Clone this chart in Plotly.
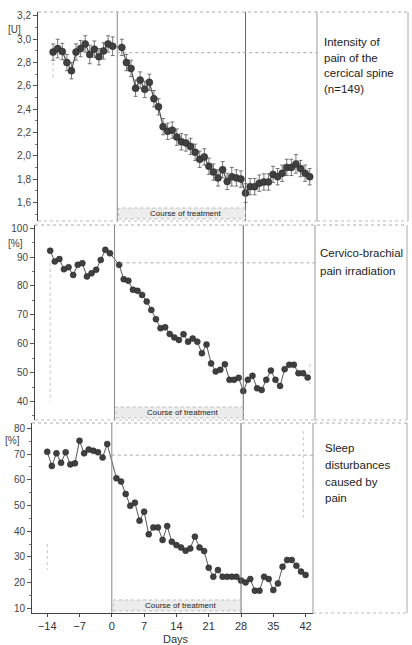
import plotly.graph_objects as go

W, H = 412, 645

# ---------------- data ----------------
DAYS = [-14, -13, -12, -11, -10, -9, -8, -7, -6, -5, -4, -3, -2, -1,
        1, 2, 3, 4, 5, 6, 7, 8, 9, 10, 11, 12, 13, 14, 15, 16, 17, 18, 19, 20,
        21, 22, 23, 24, 25, 26, 27, 28, 29, 30, 31, 32, 33, 34, 35, 36, 37, 38,
        39, 40, 41, 42]

PAIN_INTENSITY = [2.89, 2.92, 2.895, 2.80, 2.73, 2.89, 2.92, 2.96, 2.87, 2.915, 2.85, 2.90, 2.96, 2.94,
                  2.93, 2.80, 2.75, 2.58, 2.65, 2.57, 2.63, 2.49, 2.42, 2.25, 2.21, 2.22, 2.16, 2.12,
                  2.11, 2.08, 2.03, 1.97, 1.99, 1.91, 1.86, 1.81, 1.88, 1.78, 1.82, 1.81, 1.80, 1.68,
                  1.735, 1.735, 1.765, 1.775, 1.775, 1.84, 1.82, 1.85, 1.90, 1.90, 1.93, 1.89, 1.85, 1.82]

PAIN_SEM = [0.07, 0.08, 0.07, 0.07, 0.07, 0.07, 0.07, 0.07, 0.08, 0.07, 0.07, 0.07, 0.07, 0.08,
            0.07, 0.07, 0.07, 0.07, 0.07, 0.07, 0.07, 0.07, 0.07, 0.07, 0.07, 0.07, 0.07, 0.07,
            0.07, 0.07, 0.07, 0.07, 0.07, 0.07, 0.07, 0.07, 0.07, 0.07, 0.08, 0.07, 0.07, 0.08,
            0.07, 0.07, 0.07, 0.07, 0.07, 0.07, 0.07, 0.07, 0.07, 0.07, 0.08, 0.07, 0.07, 0.07]

IRRADIATION = [92.2, 88.5, 89.3, 85.8, 86.5, 83.8, 87.3, 87.9, 83.3, 84.4, 85.6, 89.0, 92.5, 91.3,
               87.3, 82.3, 81.8, 78.7, 78.3, 76.9, 74.6, 71.7, 68.5, 65.4, 65.7, 63.4, 62.2, 61.3,
               63.3, 60.7, 61.8, 60.7, 56.7, 59.7, 53.2, 50.4, 51.0, 52.9, 47.5, 47.5, 48.2, 43.6,
               47.5, 48.9, 44.6, 44.0, 47.5, 50.7, 47.5, 45.4, 51.2, 52.7, 52.7, 49.8, 49.8, 48.3]

SLEEP = [70.9, 65.4, 70.3, 66.6, 70.7, 66.0, 66.4, 75.2, 70.3, 71.8, 71.3, 70.7, 68.7, 73.9,
         60.6, 59.3, 54.5, 49.9, 51.1, 44.1, 47.6, 38.8, 41.5, 41.5, 36.6, 42.0, 35.9, 34.6,
         33.7, 32.4, 33.3, 37.9, 33.7, 32.3, 25.8, 22.3, 24.9, 22.3, 22.3, 22.3, 22.3, 20.8,
         20.1, 21.4, 16.9, 16.9, 22.3, 21.4, 17.1, 19.7, 26.2, 28.8, 28.8, 26.6, 24.3, 23.0]

X_TICKS = [-14, -7, 0, 7, 14, 21, 28, 35, 42]
TREATMENT = [0, 28]
BASELINE_REF = [2.885, 88.0, 69.6]
TITLES = [["Intensity of", "pain of the", "cercical spine", "(n=149)"],
          ["Cervico-brachial", "pain irradiation"],
          ["Sleep", "disturbances", "caused by", "pain"]]
UNITS = ["[U]", "[%]", "[%]"]

# ---------------- layout helpers ----------------
def fx(p):
    return p / W

def fy(p):
    return 1 - p / H

XR = [-17.3, 43.6]
FONT = "Liberation Sans, Arial, Helvetica, sans-serif"

PANELS = [
    dict(l=38, r=317, br=408, t=12, b=221, yr=[1.44, 3.234], dt=0.2, t0=1.6, mdt=0.1, fmt=".1f"),
    dict(l=35, r=315, br=407, t=225, b=420, yr=[33.6, 101.1], dt=10, t0=0, mdt=5, fmt="d"),
    dict(l=32, r=313, br=407, t=423, b=613, yr=[8.2, 82.1], dt=10, t0=0, mdt=5, fmt="d"),
]
# faint dotted guide lines seen in the scan: (panel, day, y from, y to)
GUIDES = [(0, -14, 2.80, 2.66), (1, -14, 88.0, 40.0), (1, 42.5, 53.0, 46.0),
          (2, -14, 35.0, 25.0), (2, 41.5, 79.0, 45.0)]

fig = go.Figure()
SERIES = [PAIN_INTENSITY, IRRADIATION, SLEEP]
for i, vals in enumerate(SERIES):
    n = "" if i == 0 else str(i + 1)
    tr = dict(
        x=DAYS, y=vals, mode="lines+markers",
        line=dict(color="#444", width=1.1 if i == 0 else 0.9),
        marker=dict(size=7 if i == 0 else 6, color="#404040", line=dict(color="#222", width=0.5)),
        xaxis="x" + n, yaxis="y" + n, showlegend=False,
    )
    if i == 0:
        tr["error_y"] = dict(type="data", array=PAIN_SEM, color="#555", thickness=0.8, width=2)
    fig.add_trace(go.Scatter(**tr))

shapes = []
annotations = []
layout = {}
for i, P in enumerate(PANELS):
    n = "" if i == 0 else str(i + 1)
    xa = "x" + n
    ya = "y" + n
    last = (i == 2)
    layout["xaxis" + n] = dict(
        domain=[fx(P["l"]), fx(P["r"])], anchor=ya, range=XR,
        showgrid=False, zeroline=False, automargin=False,
        showline=last, linecolor="#444", linewidth=1,
        showticklabels=last, ticks="outside" if last else "",
        tickvals=X_TICKS if last else None, ticklen=3, tickcolor="#444",
        tickfont=dict(family=FONT, size=11, color="#333"),
    )
    layout["yaxis" + n] = dict(
        domain=[fy(P["b"]), fy(P["t"])], anchor=xa, range=P["yr"],
        showgrid=False, zeroline=False, automargin=False,
        showline=True, linecolor="#444", linewidth=1,
        ticks="outside", ticklen=4, tickcolor="#555", tick0=P["t0"], dtick=P["dt"],
        tickformat=P["fmt"],
        minor=dict(ticks="outside", ticklen=2, dtick=P["mdt"], tickcolor="#777"),
        tickfont=dict(family=FONT, size=10, color="#444"),
    )
    for d, col in zip(TREATMENT, ["#888", "#666"]):
        shapes.append(dict(type="line", xref=xa, yref="paper", x0=d, x1=d,
                           y0=fy(P["b"]), y1=fy(P["t"]), line=dict(color=col, width=1)))
    shapes.append(dict(type="line", xref=xa, yref=ya, x0=TREATMENT[0], x1=XR[1],
                       y0=BASELINE_REF[i], y1=BASELINE_REF[i],
                       line=dict(color="#aaa", width=1, dash="dot")))
    shapes.append(dict(type="line", xref="paper", yref="paper", x0=fx(P["l"]), x1=fx(P["br"]),
                       y0=fy(P["t"]), y1=fy(P["t"]), line=dict(color="#aaa", width=1, dash="dot")))
    shapes.append(dict(type="line", xref="paper", yref="paper", x0=fx(P["r"]), x1=fx(P["r"]),
                       y0=fy(P["b"]), y1=fy(P["t"]), line=dict(color="#999", width=1)))
    shapes.append(dict(type="line", xref="paper", yref="paper", x0=fx(P["br"]), x1=fx(P["br"]),
                       y0=fy(P["b"]), y1=fy(P["t"]), line=dict(color="#aaa", width=1)))
    shapes.append(dict(type="line", xref="paper", yref="paper", x0=fx(P["r"]), x1=fx(P["br"]),
                       y0=fy(P["b"]), y1=fy(P["b"]), line=dict(color="#bbb", width=1, dash="dot")))
    if not last:
        shapes.append(dict(type="line", xref="paper", yref="paper", x0=fx(P["l"]), x1=fx(P["r"]),
                           y0=fy(P["b"]), y1=fy(P["b"]), line=dict(color="#bbb", width=1, dash="dot")))
    rb = P["b"] - 2
    rt = rb - 11
    shapes.append(dict(type="rect", xref=xa, yref="paper", x0=TREATMENT[0] + 0.3, x1=TREATMENT[1],
                       y0=fy(rb), y1=fy(rt), fillcolor="rgba(200,200,200,0.35)",
                       line=dict(color="#bbb", width=1, dash="dot")))
    annotations.append(dict(text="Course of treatment", xref=xa, yref="paper", x=14.8,
                            y=fy((rb + rt) / 2), showarrow=False, xanchor="center", yanchor="middle",
                            font=dict(family=FONT, size=8, color="#222")))
    annotations.append(dict(text=UNITS[i], xref="paper", yref="paper",
                            x=fx([14, 16, 12][i]), y=fy([30, 243, 440][i]), showarrow=False,
                            xanchor="center", yanchor="middle",
                            font=dict(family=FONT, size=10, color="#444")))

for (pi, d, ya0, ya1) in GUIDES:
    n = "" if pi == 0 else str(pi + 1)
    shapes.append(dict(type="line", xref="x" + n, yref="y" + n, x0=d, x1=d, y0=ya0, y1=ya1,
                       line=dict(color="#c4c4c4", width=1, dash="dot"), layer="below"))

TITLE_POS = [(322, [42, 57.5, 73, 89]), (318, [253, 271]), (323, [448, 465, 482, 498])]
for i, (lines, (tx, tys)) in enumerate(zip(TITLES, TITLE_POS)):
    for line, ty in zip(lines, tys):
        annotations.append(dict(text=line, xref="paper", yref="paper", x=fx(tx), y=fy(ty),
                                showarrow=False, xanchor="left", yanchor="middle",
                                font=dict(family=FONT, size=11.5, color="#222")))

annotations.append(dict(text="Days", xref="paper", yref="paper", x=fx(176), y=fy(639),
                        showarrow=False, xanchor="center", yanchor="middle",
                        font=dict(family=FONT, size=11, color="#333")))

fig.update_layout(
    width=W, height=H, margin=dict(l=0, r=0, t=0, b=0),
    paper_bgcolor="white", plot_bgcolor="white",
    separators=",.", shapes=shapes, annotations=annotations, **layout,
)

fig.write_html("out.html", config={"displayModeBar": False},
               post_script="document.body.style.margin='0';document.body.style.overflow='hidden';")
